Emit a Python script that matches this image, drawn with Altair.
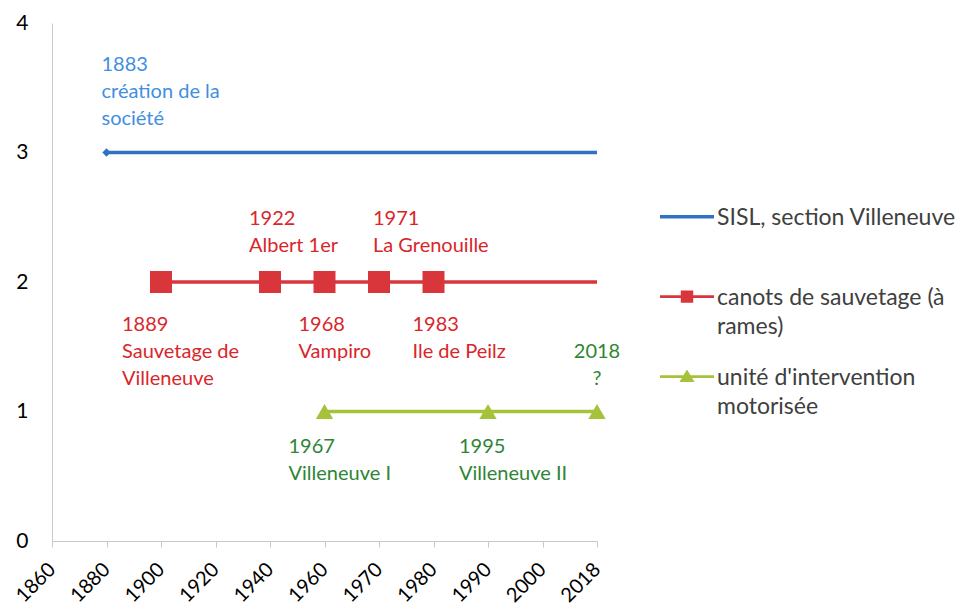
import json
import altair as alt
import pandas as pd

# ---- data -------------------------------------------------------------
x_labels = ["1860", "1880", "1900", "1920", "1940", "1960", "1970", "1980", "1990", "2000", "2018"]

legend_lines = [["SISL, section Villeneuve"],
                ["canots de sauvetage (à", "rames)"],
                ["unité d'intervention", "motorisée"]]
series_names = [" ".join(l) for l in legend_lines]
series_level = [3, 2, 1]
series_years = [["1880", "2018"],
                ["1900", "1940", "1960", "1970", "1980", "2018"],
                ["1960", "1990", "2018"]]
series_marked = [["1880"],
                 ["1900", "1940", "1960", "1970", "1980"],
                 ["1960", "1990", "2018"]]

ann_lines = [["1883", "création de la", "société"],
             ["1922", "Albert 1er"],
             ["1971", "La Grenouille"],
             ["1889", "Sauvetage de", "Villeneuve"],
             ["1968", "Vampiro"],
             ["1983", "Ile de Peilz"],
             ["2018", "?"],
             ["1967", "Villeneuve I"],
             ["1995", "Villeneuve II"]]
ann_year = ["1880", "1940", "1970", "1900", "1960", "1980", "2018", "1960", "1990"]
ann_level = [3.754, 2.561, 2.561, 1.742, 1.742, 1.742, 1.537, 0.80, 0.80]
ann_series = [0, 1, 1, 1, 1, 1, 2, 2, 2]

# ---- styles -----------------------------------------------------------
line_colors = ["#2f72c4", "#d9363c", "#a6c23a"]
text_colors = ["#3f8fe0", "#d9262b", "#2e8535"]
marker_shapes = ["diamond", "square", "triangle-up"]
marker_sizes = [70, 484, 300]
# legend symbols: a line with the series marker; shifted up to sit on the
# first text line (alphabetic baseline)
_s = -0.31
legend_paths = [
    f"M-1,{_s-0.065:.3f}H1V{_s+0.065:.3f}H-1Z",
    f"M-1,{_s-0.055:.3f}H1V{_s+0.055:.3f}H-1Z M-0.23,{_s-0.23:.3f}H0.23V{_s+0.23:.3f}H-0.23Z",
    f"M-1,{_s-0.055:.3f}H1V{_s+0.055:.3f}H-1Z M0,{_s-0.26:.3f}L0.28,{_s+0.2:.3f}H-0.28Z",
]
ann_dx = [-5, -21, -6, -39, -26, -21, 0, -36, -29]
ann_align = ["left", "left", "left", "left", "left", "left", "center", "left", "left"]
FONT = "Lato"

# ---- tables -----------------------------------------------------------
rows = []
for name, lvl, yrs in zip(series_names, series_level, series_years):
    for y in yrs:
        rows.append({"series": name, "year": y, "level": lvl})
line_df = pd.DataFrame(rows)

mrows = []
for i, (name, lvl, yrs) in enumerate(zip(series_names, series_level, series_marked)):
    for y in yrs:
        mrows.append({"series": name, "year": y, "level": lvl, "idx": i})
marker_df = pd.DataFrame(mrows)

ann_df = pd.DataFrame({"year": ann_year, "level": ann_level,
                       "label": ["\n".join(l) for l in ann_lines],
                       "idx": list(range(len(ann_lines)))})

# ---- encodings --------------------------------------------------------
X = alt.X("year:O",
          scale=alt.Scale(type="point", domain=x_labels, padding=0),
          axis=alt.Axis(title=None, domainColor="#c8c8c8", tickColor="#c8c8c8",
                        tickSize=6, labelAngle=-45, labelAlign="right",
                        labelBaseline="middle", labelFont=FONT, labelFontSize=20,
                        labelColor="#000000", labelPadding=19, grid=False))
Y = alt.Y("level:Q",
          scale=alt.Scale(domain=[0, 4]),
          axis=alt.Axis(title=None, values=[0, 1, 2, 3, 4], domainColor="#c8c8c8",
                        ticks=False, labelPadding=24, labelFont=FONT,
                        labelFontSize=21, labelColor="#000000", grid=False))
color_scale = alt.Scale(domain=series_names, range=line_colors)

expr = "''"
for name, l in reversed(list(zip(series_names, legend_lines))):
    padded = l + [""] * (2 - len(l))
    expr = f"datum.label === {json.dumps(name, ensure_ascii=False)} ? {json.dumps(padded, ensure_ascii=False)} : ({expr})"

LEG = alt.Legend(title=None, orient="none", legendX=608, legendY=175,
                 labelFont=FONT, labelFontSize=23, labelColor="#404040",
                 labelBaseline="alphabetic",
                 symbolSize=2916, labelOffset=3, labelLimit=400,
                 labelExpr=expr, rowPadding=19, padding=0,
                 symbolStrokeWidth=0, symbolOpacity=1)

COLOR = alt.Color("series:N", scale=color_scale, legend=LEG)

lines = alt.Chart(line_df).mark_line(strokeWidth=3.5).encode(
    x=X, y=Y, color=COLOR, detail="series:N",
)

layers = [lines]
for i in range(len(series_names)):
    layers.append(
        alt.Chart(marker_df).transform_filter(alt.datum.idx == i)
        .mark_point(shape=marker_shapes[i], size=marker_sizes[i], filled=True, opacity=1)
        .encode(x=X, y=Y, color=COLOR)
    )

legend_layer = alt.Chart(marker_df).mark_point(filled=True, opacity=0).encode(
    x=X, y=Y, color=COLOR,
    shape=alt.Shape("series:N", scale=alt.Scale(domain=series_names, range=legend_paths),
                    legend=LEG),
)
layers.append(legend_layer)

for i in range(len(ann_lines)):
    layers.append(
        alt.Chart(ann_df).transform_filter(alt.datum.idx == i)
        .mark_text(align=ann_align[i], baseline="top", dx=ann_dx[i], font=FONT,
                   fontSize=20, lineHeight=27, lineBreak="\n",
                   color=text_colors[ann_series[i]])
        .encode(x=X, y=Y, text="label:N")
    )

chart = alt.layer(*layers).properties(
    width=545, height=518,
    autosize=alt.AutoSizeParams(type="none"),
    padding={"left": 44, "top": 15, "right": 366, "bottom": 65},
).configure(
    view={"stroke": None},
    style={"guide-label": {"lineHeight": 29}},
)

chart.save("out.html", embed_options={"renderer": "svg", "actions": False})
